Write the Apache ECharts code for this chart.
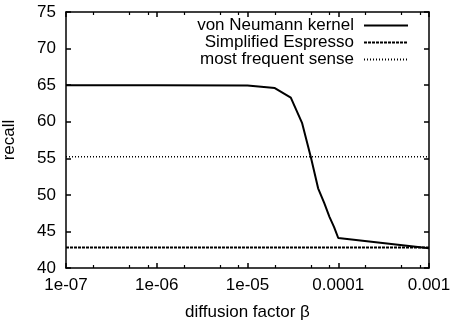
<!DOCTYPE html>
<html><head><meta charset="utf-8">
<script src="https://cdn.jsdelivr.net/npm/echarts@6/dist/echarts.min.js"></script>
<style>html,body{margin:0;padding:0;background:#fff}#c{width:452px;height:322px}</style>
</head><body><div id="c"></div>
<script>
var xValues = [1e-7, 1e-6, 1e-5, 2e-5, 3e-5, 4e-5, 5e-5, 6e-5, 7e-5, 8e-5, 9e-5, 1e-4, 1e-3];
var vonNeumann = [65.0, 65.0, 64.95, 64.6, 63.3, 59.8, 55.1, 50.9, 48.9, 47.0, 45.6, 44.1, 42.7];
var espressoX = [1e-7, 1e-3];
var espresso = [42.8, 42.8];
var mfsX = [1e-7, 1e-3];
var mfs = [55.2, 55.2];
var xTickLabels = ['1e-07', '1e-06', '1e-05', '0.0001', '0.001'];
var xMinorTicks = [2e-7, 5e-7, 8e-7, 2e-6, 5e-6, 8e-6, 2e-5, 5e-5, 8e-5, 2e-4, 5e-4, 8e-4];
var yTicks = [40, 45, 50, 55, 60, 65, 70, 75];

var FONT = 'Liberation Sans';
var FS = 17;
function pairs(xs, ys) { return xs.map(function (x, i) { return [x, ys[i]]; }); }

var chart = echarts.init(document.getElementById('c'));
var baseX = {
  type: 'log', logBase: 10, min: 1e-7, max: 1e-3, splitNumber: 4,
  splitLine: { show: false }, minorSplitLine: { show: false }
};
var baseY = { type: 'value', min: 40, max: 75, interval: 5, splitLine: { show: false } };
var frameLine = { show: true, onZero: false, lineStyle: { color: '#000', width: 1.5 } };
function tickAxis(base, pos, len, custom, w) {
  var t = { show: true, inside: false, length: len, lineStyle: { color: '#000', width: w } };
  if (custom) t.customValues = custom;
  return Object.assign({}, base, {
    position: pos, offset: -len,
    axisLine: { show: false },
    axisTick: t,
    axisLabel: { show: false }
  });
}
chart.setOption({
  animation: false,
  grid: { left: 66, right: 23, top: 12, bottom: 54, containLabel: false, outerBoundsMode: 'none' },
  xAxis: [
    Object.assign({}, baseX, {
      position: 'bottom',
      axisLine: frameLine,
      axisTick: { show: false },
      axisLabel: {
        color: '#000', fontFamily: FONT, fontSize: FS, margin: 9,
        formatter: function (v, i) { return xTickLabels[i]; }
      },
      name: 'diffusion factor β', nameLocation: 'middle', nameGap: 36,
      nameTextStyle: { color: '#000', fontFamily: FONT, fontSize: FS }
    }),
    Object.assign({}, baseX, {
      position: 'top', axisLine: frameLine, axisTick: { show: false }, axisLabel: { show: false }
    }),
    tickAxis(baseX, 'bottom', 5, null, 1.5),
    tickAxis(baseX, 'top', 5, null, 1.5),
    tickAxis(baseX, 'bottom', 3, xMinorTicks, 1.2),
    tickAxis(baseX, 'top', 3, xMinorTicks, 1.2)
  ],
  yAxis: [
    Object.assign({}, baseY, {
      position: 'left',
      axisLine: frameLine,
      axisTick: { show: false },
      axisLabel: { color: '#000', fontFamily: FONT, fontSize: FS, margin: 10,
        formatter: function (v) { return yTicks.indexOf(v) >= 0 ? String(v) : ''; } },
      name: 'recall', nameLocation: 'middle', nameGap: 48,
      nameTextStyle: { color: '#000', fontFamily: FONT, fontSize: FS }
    }),
    Object.assign({}, baseY, {
      position: 'right', axisLine: frameLine, axisTick: { show: false }, axisLabel: { show: false }
    }),
    tickAxis(baseY, 'left', 5, null, 1.5),
    tickAxis(baseY, 'right', 5, null, 1.5)
  ],
  legend: [
    { data: ['von Neumann kernel'], right: 43, top: 17 },
    { data: ['Simplified Espresso'], right: 43, top: 34 },
    { data: ['most frequent sense'], right: 43, top: 51 }
  ].map(function (l) {
    return Object.assign(l, {
      orient: 'vertical', align: 'right', padding: 0, itemWidth: 44, itemHeight: 14,
      itemStyle: { color: 'transparent', borderWidth: 0, opacity: 0 },
      textStyle: { color: '#000', fontFamily: FONT, fontSize: FS, padding: [0, 5, 0, 0] }
    });
  }),
  series: [
    { name: 'von Neumann kernel', type: 'line', data: pairs(xValues, vonNeumann), symbol: 'none',
      lineStyle: { color: '#000', width: 2 }, itemStyle: { color: '#000' } },
    { name: 'Simplified Espresso', type: 'line', data: pairs(espressoX, espresso), symbol: 'none',
      lineStyle: { color: '#000', width: 2, type: [3, 1] }, itemStyle: { color: '#000' } },
    { name: 'most frequent sense', type: 'line', data: pairs(mfsX, mfs), symbol: 'none',
      lineStyle: { color: '#000', width: 1.5, type: [1, 2] }, itemStyle: { color: '#000' } }
  ]
});
</script></body></html>
